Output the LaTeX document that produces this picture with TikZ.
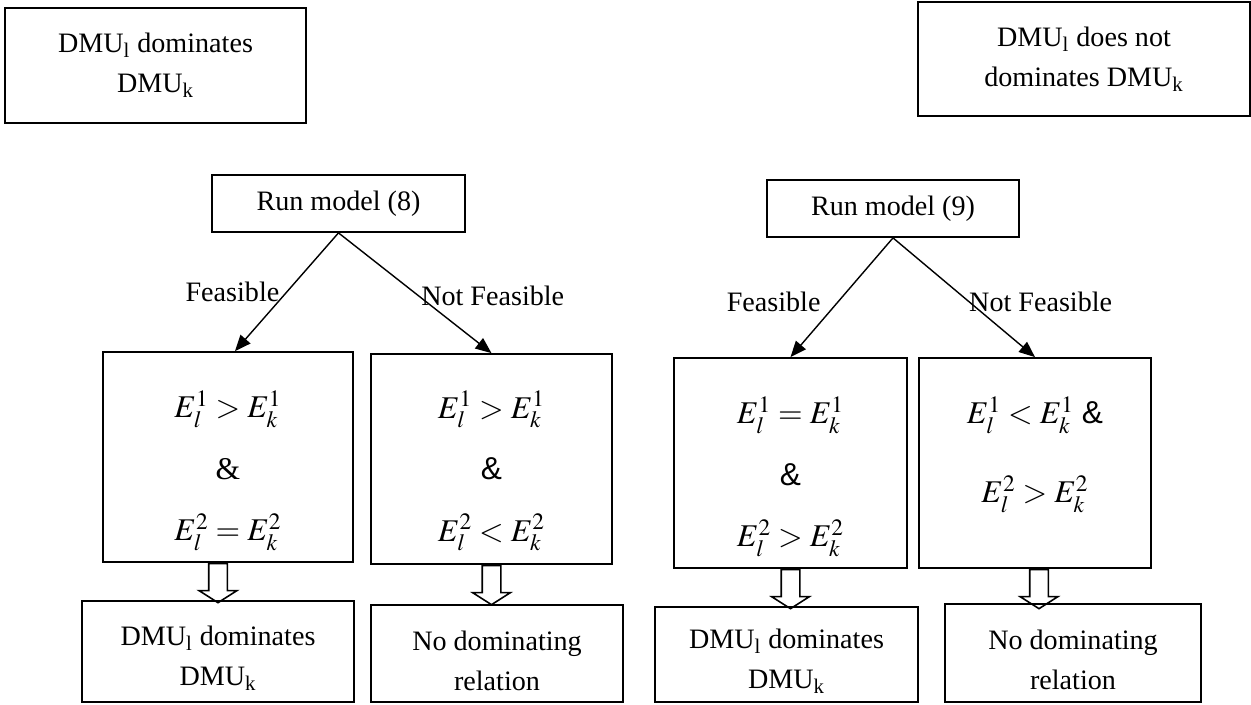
\documentclass[tikz,border=0pt]{standalone}
\usepackage{mathptmx}
\usepackage{fontspec}
\setmainfont{Liberation Serif}
\newfontfamily\ampfont{Liberation Sans}
\usepackage{tikz}
\usetikzlibrary{shapes,arrows.meta}

\newcommand{\up}{\rule{0pt}{19pt}}

\begin{document}
\begin{tikzpicture}[>={Triangle[length=3.2mm,width=2.6mm]},line width=0.8pt]
\tikzstyle{box}=[rectangle,draw,line width=1pt,align=center,inner sep=0pt,font=\fontsize{16}{22.8}\selectfont]
\tikzstyle{cond}=[box,font=\fontsize{18}{35}\selectfont]
\tikzstyle{fat}=[single arrow,draw,line width=0.9pt,shape border rotate=270,inner sep=0.17cm,single arrow head extend=0.19cm,single arrow tip angle=115,minimum height=0.78cm]
\tikzstyle{lab}=[font=\fontsize{16}{20}\selectfont,inner sep=1pt]
\useasboundingbox (0,0) rectangle (25.02,-14.08);

% the two cases
\node[box,minimum width=6.02cm,minimum height=2.3cm](Dom) at (3.11,-1.31) {DMU\textsubscript{l} dominates\\DMU\textsubscript{k}};
\node[box,minimum width=6.64cm,minimum height=2.28cm](NotDom) at (21.68,-1.18) {DMU\textsubscript{l} does not\\dominates DMU\textsubscript{k}};

\node[box,minimum width=5.06cm,minimum height=1.14cm](R8) at (6.77,-4.07) {Run model (8)};
\node[box,minimum width=5.04cm,minimum height=1.14cm](R9) at (17.86,-4.17) {Run model (9)};

\node[cond,minimum width=5.0cm,minimum height=4.2cm](A) at (4.56,-9.14) {\rule{0pt}{31pt}$E_l^1 > E_k^1$\\\&\\$E_l^2 = E_k^2$};
\node[cond,minimum width=4.82cm,minimum height=4.2cm](B) at (9.83,-9.18) {\rule{0pt}{29pt}$E_l^1 > E_k^1$\\{\ampfont\&}\\$E_l^2 < E_k^2$};
\node[cond,minimum width=4.66cm,minimum height=4.2cm](C) at (15.81,-9.26) {\rule{0pt}{31pt}$E_l^1 = E_k^1$\\{\ampfont\&}\\$E_l^2 > E_k^2$};
\node[cond,minimum width=4.64cm,minimum height=4.2cm](D) at (20.70,-9.26) {$E_l^1 < E_k^1$ {\ampfont\&}\\[10pt]$E_l^2 > E_k^2$\rule[-15pt]{0pt}{15pt}};

\node[box,minimum width=5.44cm,minimum height=2.02cm](E) at (4.36,-13.03) {\up DMU\textsubscript{l} dominates\\DMU\textsubscript{k}};
\node[box,minimum width=5.04cm,minimum height=1.94cm](F) at (9.94,-13.07) {\up No dominating\\relation};
\node[box,minimum width=5.26cm,minimum height=1.9cm](G) at (15.73,-13.09) {\up DMU\textsubscript{l} dominates\\DMU\textsubscript{k}};
\node[box,minimum width=5.12cm,minimum height=1.96cm](H) at (21.46,-13.06) {\up No dominating\\relation};

\draw[->] (R8.south) -- node[lab,pos=.5,anchor=east,xshift=-0.1cm]{Feasible} ([xshift=0.14cm]A.north);
\draw[->] (R8.south) -- node[lab,pos=.525,anchor=west]{Not Feasible} (B.north);
\draw[->] (R9.south) -- node[lab,pos=.537,anchor=east,xshift=-0.3cm]{Feasible} (C.north);
\draw[->] (R9.south) -- node[lab,pos=.537,anchor=west,xshift=-0.05cm]{Not Feasible} (D.north);

\node[fat,anchor=tail](aA) at ([xshift=-0.2cm]A.south) {};
\node[fat,anchor=tail](aB) at (B.south) {};
\node[fat,anchor=tail](aC) at (C.south) {};
\node[fat,anchor=tail](aD) at ([xshift=0.08cm]D.south) {};
\end{tikzpicture}
\end{document}
